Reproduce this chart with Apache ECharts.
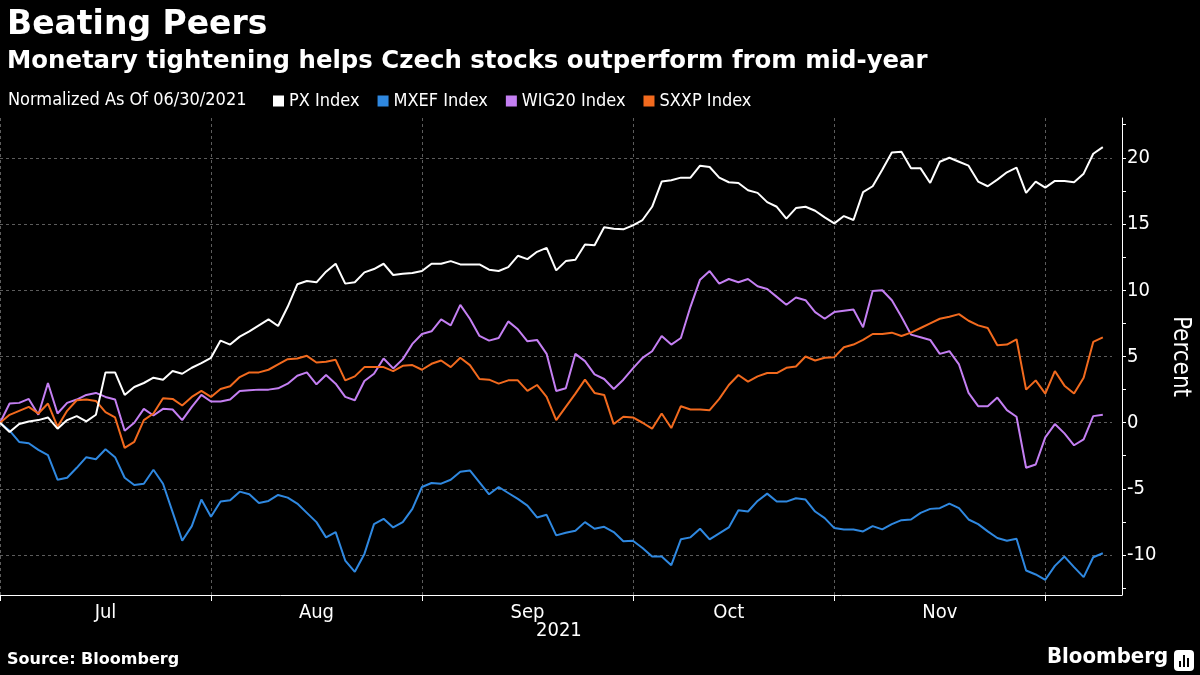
<!DOCTYPE html>
<html>
<head>
<meta charset="utf-8">
<script src="https://cdn.jsdelivr.net/npm/echarts@6/dist/echarts.min.js"></script>
<style>
  html, body { margin: 0; padding: 0; background: #000; }
  #chart { width: 1200px; height: 675px; }
</style>
</head>
<body>
<div id="chart"></div>
<script>
// percent change since 06/30/2021, one value per trading day (Jun 30 .. Dec 8)
const pxIndex = [
  0, -0.7, -0.1, 0.1, 0.2, 0.4, -0.45, 0.2, 0.5, 0.1, 0.6, 3.8, 3.8, 2.1, 2.7, 3.0, 3.4, 3.25, 3.9, 3.7,
  4.15, 4.5, 4.9, 6.2, 5.9, 6.5, 6.9, 7.35, 7.8, 7.3, 8.75, 10.45, 10.7, 10.6, 11.4, 12.0, 10.5, 10.6, 11.35, 11.6,
  12.0, 11.15, 11.25, 11.3, 11.45, 12.0, 12.0, 12.2, 11.95, 11.95, 11.95, 11.55, 11.45, 11.75, 12.6, 12.35, 12.9, 13.2, 11.5, 12.2,
  12.3, 13.45, 13.4, 14.75, 14.65, 14.6, 14.9, 15.3, 16.3, 18.2, 18.3, 18.5, 18.5, 19.4, 19.3, 18.5, 18.15, 18.1, 17.55, 17.35,
  16.65, 16.3, 15.4, 16.2, 16.3, 16.0, 15.5, 15.05, 15.6, 15.3, 17.4, 17.85, 19.1, 20.4, 20.45, 19.2, 19.2, 18.1, 19.7, 20.0,
  19.7, 19.4, 18.2, 17.85, 18.35, 18.9, 19.25, 17.35, 18.2, 17.75, 18.25, 18.25, 18.15, 18.8, 20.3, 20.8
];
const mxefIndex = [
  0, -0.6, -1.45, -1.55, -2.05, -2.45, -4.3, -4.15, -3.4, -2.6, -2.75, -2.0, -2.6, -4.15, -4.7, -4.6, -3.55, -4.6, -6.75, -8.9,
  -7.8, -5.8, -7.1, -5.95, -5.85, -5.2, -5.4, -6.05, -5.9, -5.45, -5.65, -6.1, -6.8, -7.5, -8.65, -8.25, -10.4, -11.25, -9.9, -7.65,
  -7.25, -7.9, -7.5, -6.5, -4.85, -4.55, -4.6, -4.3, -3.7, -3.6, -4.5, -5.4, -4.85, -5.3, -5.75, -6.25, -7.15, -6.95, -8.5, -8.3,
  -8.15, -7.5, -8.0, -7.85, -8.25, -8.95, -8.9, -9.45, -10.1, -10.1, -10.75, -8.8, -8.65, -8.0, -8.8, -8.35, -7.9, -6.6, -6.7, -5.9,
  -5.35, -5.95, -5.95, -5.7, -5.8, -6.7, -7.2, -7.95, -8.05, -8.05, -8.2, -7.8, -8.05, -7.65, -7.35, -7.3, -6.8, -6.5, -6.45, -6.1,
  -6.45, -7.3, -7.65, -8.2, -8.7, -8.9, -8.75, -11.15, -11.45, -11.85, -10.8, -10.1, -10.9, -11.65, -10.15, -9.85
];
const wig20Index = [
  0, 1.45, 1.5, 1.8, 0.6, 3.0, 0.7, 1.5, 1.75, 2.1, 2.25, 1.95, 1.75, -0.6, 0, 1.05, 0.55, 1.05, 1.0, 0.2,
  1.2, 2.1, 1.6, 1.6, 1.75, 2.4, 2.45, 2.5, 2.5, 2.6, 2.95, 3.55, 3.8, 2.9, 3.6, 2.95, 1.95, 1.7, 3.15, 3.7,
  4.85, 4.1, 4.8, 5.95, 6.7, 6.9, 7.8, 7.35, 8.9, 7.85, 6.55, 6.2, 6.4, 7.65, 7.05, 6.15, 6.25, 5.2, 2.4, 2.6,
  5.2, 4.65, 3.65, 3.3, 2.55, 3.25, 4.1, 4.9, 5.4, 6.55, 5.9, 6.4, 8.75, 10.8, 11.45, 10.5, 10.85, 10.6, 10.85, 10.3,
  10.1, 9.5, 8.9, 9.45, 9.25, 8.35, 7.85, 8.35, 8.45, 8.55, 7.2, 9.95, 10.0, 9.25, 8.0, 6.65, 6.45, 6.25, 5.2, 5.4,
  4.4, 2.25, 1.25, 1.25, 1.9, 0.95, 0.45, -3.4, -3.15, -1.1, -0.1, -0.8, -1.7, -1.25, 0.5, 0.6
];
const sxxpIndex = [
  0, 0.6, 0.9, 1.2, 0.7, 1.45, -0.3, 0.9, 1.7, 1.75, 1.65, 0.8, 0.4, -1.9, -1.45, 0.2, 0.7, 1.85, 1.8, 1.3,
  1.95, 2.4, 1.95, 2.55, 2.75, 3.45, 3.8, 3.8, 4.0, 4.4, 4.8, 4.85, 5.05, 4.55, 4.6, 4.75, 3.2, 3.5, 4.2, 4.2,
  4.2, 3.9, 4.3, 4.35, 4.0, 4.45, 4.7, 4.2, 4.9, 4.35, 3.3, 3.25, 2.95, 3.2, 3.2, 2.4, 2.85, 1.95, 0.2, 1.2,
  2.2, 3.25, 2.25, 2.1, -0.1, 0.45, 0.4, 0, -0.45, 0.7, -0.4, 1.25, 1.0, 1.0, 0.95, 1.8, 2.85, 3.6, 3.1, 3.5,
  3.75, 3.75, 4.15, 4.25, 5.0, 4.7, 4.9, 4.95, 5.7, 5.9, 6.25, 6.7, 6.7, 6.8, 6.55, 6.8, 7.15, 7.5, 7.85, 8.0,
  8.2, 7.7, 7.35, 7.15, 5.85, 5.9, 6.3, 2.5, 3.2, 2.2, 3.9, 2.8, 2.2, 3.4, 6.1, 6.45
];
const seriesNames = ['PX Index', 'MXEF Index', 'WIG20 Index', 'SXXP Index'];
const seriesColors = ['#ffffff', '#2f88e0', '#c47ff2', '#f26a1e'];
const monthNames = ['Jan', 'Feb', 'Mar', 'Apr', 'May', 'Jun', 'Jul', 'Aug', 'Sep', 'Oct', 'Nov', 'Dec'];

// trading-day axis: weekdays from 06/30/2021, plus a couple of empty days at the end
const dates = [];
let d = new Date(2021, 5, 30);
while (dates.length < 118) {
  if (d.getDay() !== 0 && d.getDay() !== 6) dates.push(new Date(d));
  d.setDate(d.getDate() + 1);
}
const dateLabels = dates.map(x => (x.getMonth() + 1) + '/' + x.getDate() + '/' + x.getFullYear());

// month boundaries sit on the last trading day of each month
const bounds = [];
for (let i = 0; i < dates.length - 1; i++) {
  if (dates[i].getMonth() !== dates[i + 1].getMonth()) bounds.push(i);
}
const boundSet = new Set(bounds);
const midSet = new Set();
for (let k = 0; k < bounds.length - 1; k++) midSet.add(Math.floor((bounds[k] + bounds[k + 1]) / 2));

const narrow = '"DejaVu Sans Condensed", "Liberation Sans Narrow", "DejaVu Sans", sans-serif';
const bold = '"DejaVu Sans", "Liberation Sans", sans-serif';
const gridDash = { color: '#5c5c5c', width: 1, type: [3, 3] };
const white = '#fff';

const chart = echarts.init(document.getElementById('chart'));

const option = {
  backgroundColor: '#000',
  animation: false,
  title: [
    { text: 'Beating Peers', left: 2, top: 4,
      textStyle: { color: white, fontSize: 33, fontWeight: 'bold', fontFamily: bold } },
    { text: 'Monetary tightening helps Czech stocks outperform from mid-year', left: 2, top: 45,
      textStyle: { color: white, fontSize: 24.4, fontWeight: 'bold', fontFamily: bold } }
  ],
  legend: {
    data: seriesNames,
    left: 273, top: 92, padding: 0, itemGap: 18,
    icon: 'rect', itemWidth: 11, itemHeight: 11,
    textStyle: { color: white, fontSize: 18, fontFamily: narrow }
  },
  grid: [
    // data area
    { left: 0, right: 78, top: 118, height: 477 },
    // -10..20 labels and gridlines
    { left: 0, right: 78, top: 158, height: 397 },
    // tick marks every 2.5 from -12.5 to 22.5
    { left: 0, right: 78, top: 124.7, height: 463.4 }
  ],
  xAxis: [
    {
      gridIndex: 0, type: 'category', data: dateLabels, boundaryGap: false,
      axisLine: { onZero: false, lineStyle: { color: white, width: 1 } },
      axisTick: { interval: (i) => boundSet.has(i), length: 6, lineStyle: { color: white } },
      axisLabel: {
        interval: (i) => midSet.has(i), color: white, fontSize: 20, margin: 8, fontFamily: narrow,
        formatter: (v, i) => monthNames[dates[i].getMonth()]
      },
      splitLine: { show: true, interval: (i) => boundSet.has(i), lineStyle: gridDash }
    },
    { gridIndex: 1, type: 'value', min: 1, max: 2, show: false },
    { gridIndex: 2, type: 'value', min: 1, max: 2, show: false }
  ],
  yAxis: [
    {
      gridIndex: 0, type: 'value', min: -13, max: 23, position: 'right',
      axisLine: { show: true, onZero: false, lineStyle: { color: white, width: 1 } },
      axisTick: { show: false }, axisLabel: { show: false }, splitLine: { show: false }
    },
    {
      gridIndex: 1, type: 'value', min: -10, max: 20, interval: 5, position: 'right',
      axisLine: { show: false, onZero: false }, axisTick: { show: false },
      axisLabel: { color: white, fontSize: 20, margin: 15, fontFamily: narrow },
      splitLine: { show: true, lineStyle: gridDash },
      name: 'Percent', nameLocation: 'middle', nameRotate: -90, nameGap: 56,
      nameTextStyle: { color: white, fontSize: 24, fontFamily: narrow }
    },
    {
      gridIndex: 2, type: 'value', min: -12.5, max: 22.5, interval: 2.5, position: 'right',
      axisLine: { show: false, onZero: false },
      axisTick: { show: true, inside: false, length: 4, lineStyle: { color: white } },
      axisLabel: { show: false }, splitLine: { show: false }
    }
  ],
  series: [pxIndex, mxefIndex, wig20Index, sxxpIndex].map((vals, k) => ({
    name: seriesNames[k], type: 'line', data: vals,
    xAxisIndex: 0, yAxisIndex: 0,
    showSymbol: false, symbol: 'none',
    itemStyle: { color: seriesColors[k] },
    lineStyle: { color: seriesColors[k], width: 2 },
    z: k === 0 ? 5 : 3
  })),
  graphic: [
    { type: 'text', left: 8, top: 91,
      style: { text: 'Normalized As Of 06/30/2021', fill: white, fontSize: 18, fontFamily: narrow } },
    { type: 'text', left: 536, top: 621,
      style: { text: '2021', fill: white, fontSize: 20, fontFamily: narrow } },
    { type: 'text', left: 7, top: 652,
      style: { text: 'Source: Bloomberg', fill: white, fontSize: 16, fontWeight: 'bold', fontFamily: bold } },
    { type: 'text', left: 1047, top: 646,
      style: { text: 'Bloomberg', fill: white, fontSize: 22, fontWeight: 'bold', fontFamily: narrow } },
    { type: 'rect', left: 1174, top: 650, shape: { width: 20, height: 21, r: 4 }, style: { fill: white } },
    { type: 'rect', left: 1179, top: 661, shape: { width: 2, height: 6 }, style: { fill: '#000' } },
    { type: 'rect', left: 1183, top: 655, shape: { width: 2, height: 12 }, style: { fill: '#000' } },
    { type: 'rect', left: 1187, top: 658, shape: { width: 2, height: 9 }, style: { fill: '#000' } }
  ]
};

chart.setOption(option);
</script>
</body>
</html>
